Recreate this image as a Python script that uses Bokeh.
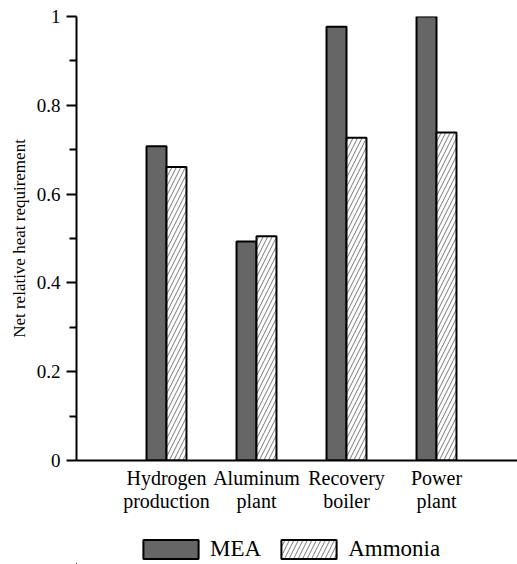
from bokeh.plotting import figure
from bokeh.models import ColumnDataSource, FixedTicker, Legend, LegendItem, Range1d
from bokeh.layouts import column
from bokeh.embed import file_html
from bokeh.resources import INLINE

categories = ["Hydrogen\nproduction", "Aluminum\nplant", "Recovery\nboiler", "Power\nplant"]
series_names = ["MEA", "Ammonia"]
mea = [0.708, 0.493, 0.977, 1.0]
ammonia = [0.661, 0.505, 0.727, 0.739]
y_ticks = [0, 0.2, 0.4, 0.6, 0.8, 1]
y_tick_labels = ["0", "0.2", "0.4", "0.6", "0.8", "1"]

pos = [i + 1 for i in range(len(categories))]
bw = 0.222

FONT = "Liberation Serif"
MEA_STYLE = dict(fill_color="#666666", line_color="black", line_width=2)
AMM_STYLE = dict(fill_color="white", line_color="black", line_width=2,
                 hatch_pattern="right_diagonal_line", hatch_color="#555555",
                 hatch_scale=9, hatch_weight=0.8)

p = figure(frame_width=441, frame_height=444, output_backend="svg", toolbar_location=None,
           x_range=Range1d(0, 4.9), y_range=Range1d(0, 1),
           min_border_left=76, min_border_top=16, min_border_right=0, min_border_bottom=70)
p.outline_line_color = None
p.grid.visible = False

src_m = ColumnDataSource(dict(x=[v - bw / 2 for v in pos], top=mea))
src_a = ColumnDataSource(dict(x=[v + bw / 2 for v in pos], top=ammonia))

p.vbar(x="x", top="top", width=bw, source=src_m, **MEA_STYLE)
p.vbar(x="x", top="top", width=bw, source=src_a, **AMM_STYLE)

# x axis
p.xaxis.ticker = FixedTicker(ticks=pos)
p.xaxis.major_label_overrides = {v: c for v, c in zip(pos, categories)}
p.xaxis.major_tick_line_color = None
p.xaxis.minor_tick_line_color = None
p.xaxis.axis_line_width = 2
p.xaxis.axis_line_color = "black"
p.xaxis.major_label_text_font = FONT
p.xaxis.major_label_text_font_size = "20px"
p.xaxis.major_label_text_color = "black"
p.xaxis.major_label_text_line_height = 1.05
p.xaxis.major_label_standoff = 0

# y axis
p.yaxis.ticker = FixedTicker(ticks=y_ticks, minor_ticks=[0.1, 0.3, 0.5, 0.7, 0.9])
p.yaxis.major_label_overrides = {v: s for v, s in zip(y_ticks, y_tick_labels)}
p.yaxis.axis_line_width = 2
p.yaxis.major_tick_line_width = 2
p.yaxis.minor_tick_line_width = 2
p.yaxis.major_tick_out = 10
p.yaxis.major_tick_in = 0
p.yaxis.minor_tick_out = 7
p.yaxis.minor_tick_in = 0
p.yaxis.major_label_text_font = FONT
p.yaxis.major_label_text_font_size = "19px"
p.yaxis.major_label_text_color = "black"
p.yaxis.major_label_standoff = 6
p.yaxis.axis_label = "Net relative heat requirement"
p.yaxis.axis_label_text_font = FONT
p.yaxis.axis_label_text_font_size = "17px"
p.yaxis.axis_label_text_font_style = "normal"
p.yaxis.axis_label_text_color = "black"
p.yaxis.axis_label_standoff = 5

# legend figure (same data, ranges placed so the bars are off-screen; only the legend shows)
lf = figure(width=517, height=34, output_backend="svg", toolbar_location=None,
            x_range=Range1d(100, 101), y_range=Range1d(100, 101),
            x_axis_location=None, y_axis_location=None,
            min_border=0)
lf.outline_line_color = None
lf.grid.visible = False
lr1 = lf.vbar(x="x", top="top", width=bw, source=src_m, **MEA_STYLE)
lr2 = lf.vbar(x="x", top="top", width=bw, source=src_a, **AMM_STYLE)
legend = Legend(items=[LegendItem(label=series_names[0], renderers=[lr1]),
                       LegendItem(label=series_names[1], renderers=[lr2])],
                orientation="horizontal", location=(60, 2),
                glyph_width=69, glyph_height=24, spacing=13, label_standoff=5,
                label_text_font=FONT, label_text_font_size="23px",
                label_text_color="black",
                border_line_color=None, background_fill_alpha=0,
                margin=0, padding=0)
lf.add_layout(legend, "center")

layout = column(p, lf, spacing=0)
open("out.html", "w").write(file_html(layout, INLINE))
